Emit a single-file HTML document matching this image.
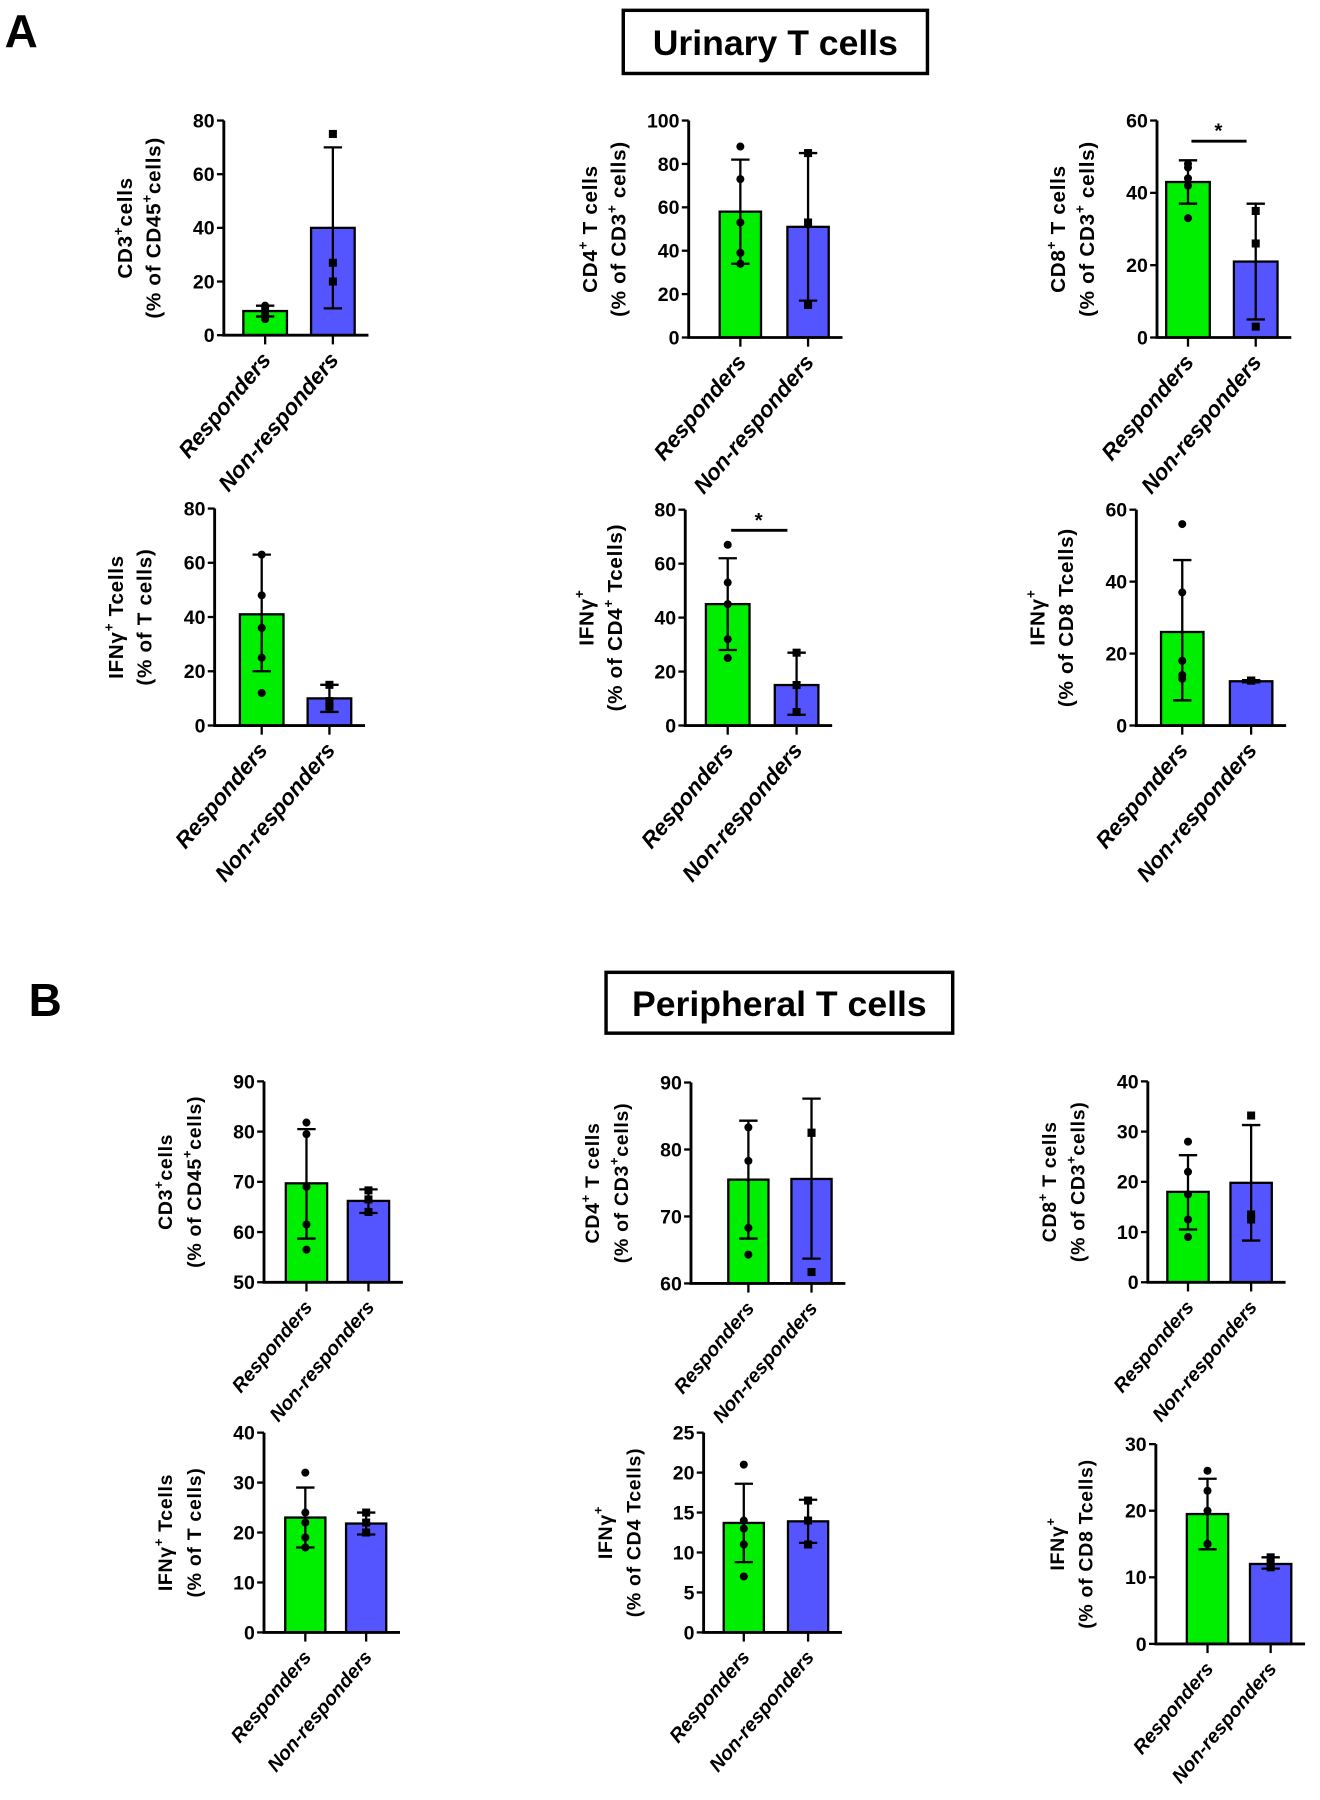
<!DOCTYPE html>
<html><head><meta charset="utf-8"><style>
html,body{margin:0;padding:0;background:#fff;}
svg{display:block;font-family:"Liberation Sans",Arial,sans-serif;}
</style></head><body>
<svg id="fig" width="1320" height="1800" viewBox="0 0 1150 1568" preserveAspectRatio="none">
<text x="4" y="41" font-size="40" font-weight="bold">A</text>
<rect x="543" y="9" width="265" height="55" fill="none" stroke="#000" stroke-width="3"/>
<text x="675.5" y="48" font-size="31" font-weight="bold" text-anchor="middle">Urinary T cells</text>
<text x="25" y="885" font-size="40" font-weight="bold">B</text>
<rect x="528" y="847" width="302" height="53" fill="none" stroke="#000" stroke-width="3"/>
<text x="679" y="885" font-size="31" font-weight="bold" text-anchor="middle">Peripheral T cells</text>
</svg>
<script>
// data per chart (12 charts)
const groups = ["Responders","Non-responders"];
const respMean = [9,58,43,41,45,26,69.7,75.5,18,23,13.7,19.5];
const nonMean  = [40,51,21,10,15,12.3,66.2,75.6,19.8,21.8,13.9,12];
const respLo = [7,34,37,20,28,7,58.7,66.7,10.5,17,8.8,14.2];
const respHi = [11,82,49,63,62,46,80.5,84.3,25.3,29,18.6,24.8];
const nonLo  = [10,17,5,5,4,12,63.8,63.7,8.3,19.6,11.2,11.3];
const nonHi  = [70,85,37,15,27,12.6,68.5,87.6,31.3,24,16.6,13];
const respPts = [[6,8,9,11,10],[88,73,53,39,34],[48,47,44,42,33],[63,48,36,25,12],[67,53,45,32,25],[56,37,18,14,13],[81.8,79.5,69,61.5,56.5],[83.3,78.3,68.3,64.3],[28,22,17.5,12.5,9],[32,24,22,19,17],[21,14,13,11,7],[26,23,20,15,15]];
const nonPts = [[75,27,20],[85,53,15],[35,26,3],[15,9,7],[27,15,5],[12.5,12.5,12.5],[68.3,66.5,64],[82.5,82.5,61.7],[33.2,13.5,12.5],[24,22,20],[16.5,14,11],[13,12,11.5]];
const yMin = [0,0,0,0,0,0,50,60,0,0,0,0];
const yMax = [80,100,60,80,80,60,90,90,40,40,25,30];
const yStep = [20,20,20,20,20,20,10,10,10,10,5,10];
const sig = [false,false,true,false,true,false,false,false,false,false,false,false];
const titles1 = [["CD3","+","cells"],["CD4","+"," T cells"],["CD8","+"," T cells"],["IFNγ","+"," Tcells"],["IFNγ","+",""],["IFNγ","+",""],["CD3","+","cells"],["CD4","+"," T cells"],["CD8","+"," T cells"],["IFNγ","+"," Tcells"],["IFNγ","+",""],["IFNγ","+",""]];
const titles2 = [["(% of CD45","+","cells)"],["(% of CD3","+"," cells)"],["(% of CD3","+"," cells)"],["(% of T cells)","",""],["(% of CD4","+"," Tcells)"],["(% of CD8 Tcells)","",""],["(% of CD45","+","cells)"],["(% of CD3","+","cells)"],["(% of CD3","+","cells)"],["(% of T cells)","",""],["(% of CD4 Tcells)","",""],["(% of CD8 Tcells)","",""]];
// layout (not data)
const L = [
 {ax:195,top:105,bot:292,c1:231,c2:290,bw:38,fs:19.5},
 {ax:600,top:105,bot:294,c1:645,c2:704,bw:36,fs:19.5},
 {ax:1008,top:105,bot:294,c1:1035,c2:1094,bw:38,fs:19.5},
 {ax:187,top:443,bot:632,c1:228,c2:287,bw:38,fs:19.5},
 {ax:597,top:444,bot:632,c1:634,c2:694,bw:38,fs:19.5},
 {ax:990,top:444,bot:632,c1:1030,c2:1090,bw:37,fs:19.5},
 {ax:230,top:942,bot:1117,c1:267,c2:321,bw:36,fs:17},
 {ax:602,top:943,bot:1118,c1:652,c2:707,bw:35,fs:17},
 {ax:1000,top:942,bot:1117,c1:1035,c2:1090,bw:36,fs:17},
 {ax:230,top:1248,bot:1422,c1:266,c2:319,bw:35,fs:17},
 {ax:613,top:1248,bot:1422,c1:648,c2:704,bw:35,fs:17},
 {ax:1007,top:1258,bot:1432,c1:1052,c2:1107,bw:36,fs:17}
];
const NS="http://www.w3.org/2000/svg";
const svg=document.getElementById('fig');
function mk(tag,attrs,parent){const e=document.createElementNS(NS,tag);for(const k in attrs)e.setAttribute(k,attrs[k]);(parent||svg).appendChild(e);return e;}
function addTitle(g,parts,x,y,fs){
  const t=mk('text',{x:x,y:y,'font-size':fs,'font-weight':'bold','letter-spacing':0.6,'text-anchor':'middle',transform:`rotate(-90 ${x} ${y})`},g);
  
  
  const a=mk('tspan',{},t);a.textContent=parts[0];
  if(parts[1]){const s=mk('tspan',{'font-size':fs*0.66,dy:-8},t);s.textContent=parts[1];
    const b=mk('tspan',{dy:8},t);b.textContent=parts[2];}
  else if(parts[2]){const b=mk('tspan',{},t);b.textContent=parts[2];}
}
for(let i=0;i<12;i++){
  const l=L[i];
  const g=mk('g',{});
  
  
  const y=v=>l.bot-(v-yMin[i])/(yMax[i]-yMin[i])*(l.bot-l.top);
  const right=l.c2+l.bw/2+12;
  [[l.c1,respMean[i],'#00ee00'],[l.c2,nonMean[i],'#5555ff']].forEach((b,j)=>{
    const r=mk('rect',{x:b[0]-l.bw/2,y:y(b[1]),width:l.bw,height:l.bot-y(b[1]),fill:b[2],stroke:'#000','stroke-width':2},g);
    
    
  });
  [[l.c1,respLo[i],respHi[i]],[l.c2,nonLo[i],nonHi[i]]].forEach(e=>{
    const ln=mk('path',{d:`M${e[0]} ${y(e[1])}V${y(e[2])}M${e[0]-8} ${y(e[1])}H${e[0]+8}M${e[0]-8} ${y(e[2])}H${e[0]+8}`,stroke:'#000','stroke-width':2,fill:'none'},g);
    
    
  });
  respPts[i].forEach(v=>{
    const c=mk('circle',{cx:l.c1,cy:y(v),r:3.5,fill:'#000'},g);
    
    
  });
  nonPts[i].forEach(v=>{
    const c=mk('rect',{x:l.c2-3.5,y:y(v)-3.5,width:7,height:7,fill:'#000'},g);
    
    
  });
  const ax=mk('path',{d:`M${l.ax} ${l.top}V${l.bot}H${right}`,stroke:'#000','stroke-width':2.5,fill:'none'},g);
  
  
  for(let v=yMin[i];v<=yMax[i]+1e-9;v+=yStep[i]){
    mk('line',{x1:l.ax-6,x2:l.ax,y1:y(v),y2:y(v),stroke:'#000','stroke-width':2},g);
    const t=mk('text',{x:l.ax-8,y:y(v)+6,'font-size':17,'font-weight':'bold','text-anchor':'end'},g);
    
    
    t.textContent=v;
  }
  [l.c1,l.c2].forEach((cx,j)=>{
    mk('line',{x1:cx,x2:cx,y1:l.bot,y2:l.bot+8,stroke:'#000','stroke-width':2},g);
    const tx=cx+6, ty=l.bot+22;
    const t=mk('text',{x:tx,y:ty,'font-size':l.fs,'font-weight':'bold','font-style':'italic','text-anchor':'end',transform:`rotate(-50 ${tx} ${ty})`},g);
    
    
    t.textContent=groups[j];
  });
  const mid=(l.top+l.bot)/2;
  const tfs = l.fs>18 ? 18 : 17;
  addTitle(g,titles1[i],l.ax-80,mid,tfs);
  addTitle(g,titles2[i],l.ax-55,mid,tfs);
  if(sig[i]){
    const sy=l.top+18;
    mk('line',{x1:l.c1+3,x2:l.c2-8,y1:sy,y2:sy,stroke:'#000','stroke-width':2.5},g);
    const s=mk('text',{x:(l.c1+l.c2)/2-3,y:sy-3,'font-size':18,'font-weight':'bold','text-anchor':'middle'},g);
    
    
    s.textContent='*';
  }
}
</script>
</body></html>
